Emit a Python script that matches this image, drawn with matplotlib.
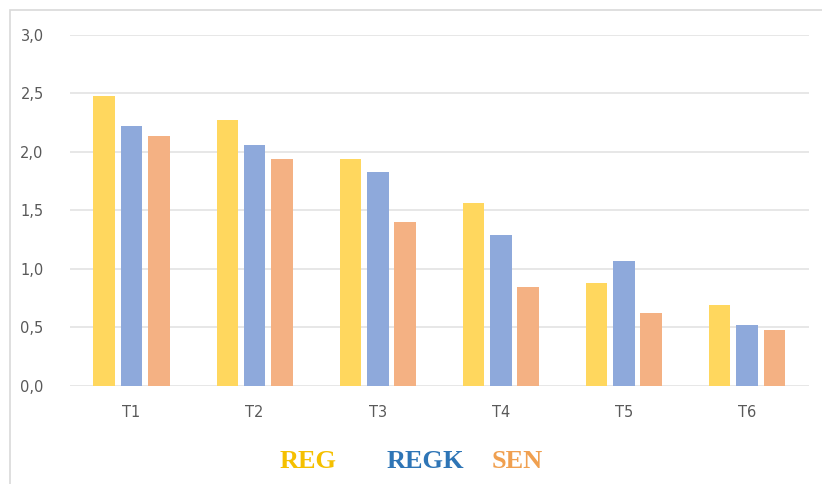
"""
grouped bars REG / REGK / SEN per test
"""
import numpy as np
import matplotlib.pyplot as plt
from matplotlib.patches import Rectangle

categories = ["T1", "T2", "T3", "T4", "T5", "T6"]
reg = [2.48, 2.27, 1.94, 1.56, 0.88, 0.69]
regk = [2.22, 2.06, 1.83, 1.29, 1.07, 0.52]
sen = [2.14, 1.94, 1.40, 0.85, 0.62, 0.48]

series_names = ["REG", "REGK", "SEN"]
bar_colors = ["#FFD75E", "#8EA9DB", "#F4B183"]
label_colors = ["#F5C000", "#2E75B6", "#F0A050"]

fig = plt.figure(figsize=(8.22, 4.84), dpi=100)
fig.patches.append(Rectangle((0.012, -0.05), 1.1, 1.03, transform=fig.transFigure,
                             fill=False, edgecolor="#D9D9D9", linewidth=1.2))
ax = fig.add_axes([0.0852, 0.2025, 0.8984, 0.7252])

x = np.arange(len(categories))
width = 0.175
step = 0.222
for i, vals in enumerate([reg, regk, sen]):
    ax.bar(x + (i - 1) * step, vals, width, color=bar_colors[i], zorder=3)

ax.set_xlim(-0.5, len(categories) - 0.5)
ax.set_ylim(0, 3.0)
ax.set_yticks(np.arange(0, 3.01, 0.5))
ax.set_yticklabels([f"{v:.1f}".replace(".", ",") for v in np.arange(0, 3.01, 0.5)])
ax.set_xticks(x)
ax.set_xticklabels(categories)
ax.grid(axis="y", color="#E3E3E3", linewidth=1.2, zorder=0)
for s in ax.spines.values():
    s.set_visible(False)
ax.tick_params(length=0, colors="#595959", labelsize=10.5)
ax.tick_params(axis="y", pad=19)
ax.tick_params(axis="x", pad=14)

for name, col, xpos in zip(series_names, label_colors, [0.375, 0.518, 0.629]):
    fig.text(xpos, 1 - 462 / 484, name, color=col, fontsize=19, fontweight="bold",
             family="Liberation Serif", ha="center", va="center")

fig.savefig("out.png", dpi=100)
